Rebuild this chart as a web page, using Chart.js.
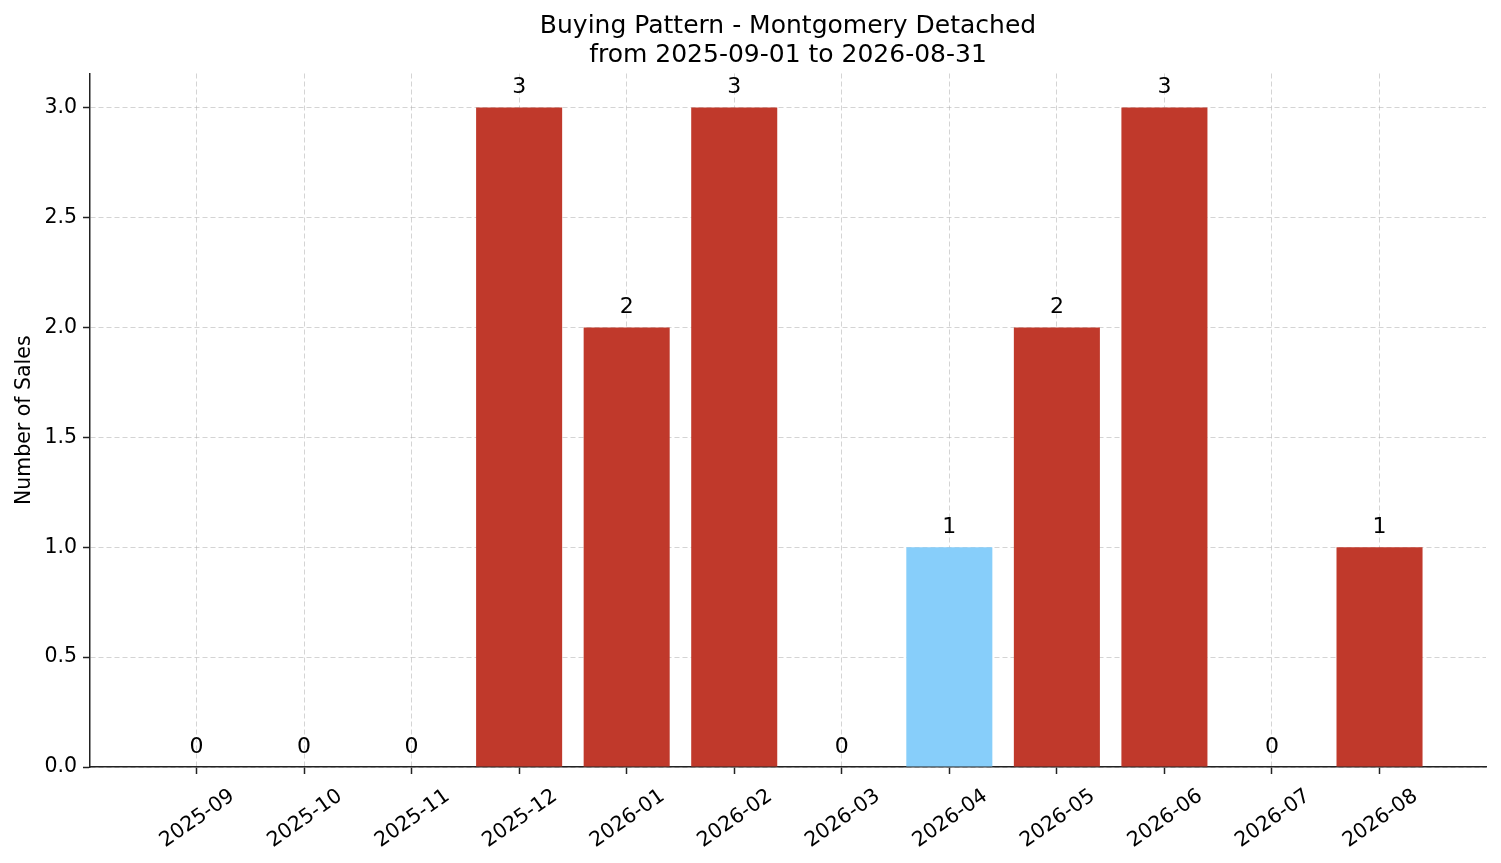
<!DOCTYPE html>
<html>
<head>
<meta charset="utf-8">
<script src="https://cdn.jsdelivr.net/npm/chart.js@4.4.1/dist/chart.umd.min.js"></script>
<style>
    html, body { margin: 0; padding: 0; background: #fff; }
    #wrap { width: 1501px; height: 863px; }
</style>
</head>
<body>
<div id="wrap"><canvas id="salesChart" width="1501" height="863"></canvas></div>
<script>
const months = ["2025-09", "2025-10", "2025-11", "2025-12", "2026-01", "2026-02",
    "2026-03", "2026-04", "2026-05", "2026-06", "2026-07", "2026-08"];
const sales = [0, 0, 0, 3, 2, 3, 0, 1, 2, 3, 0, 1];
const yTicks = [0, 0.5, 1.0, 1.5, 2.0, 2.5, 3.0];
const highlightMonth = "2026-04";

const fontFamily = "'DejaVu Sans', 'Liberation Sans', sans-serif";
const ink = "#000";
const gridColor = "rgba(176,176,176,0.55)";

document.addEventListener("DOMContentLoaded", () => {
    const canvas = document.getElementById("salesChart");

    /* Подписи значений над столбцами */
    const valueLabels = {
        id: "valueLabels",
        afterDraw(chart) {
            const ctx = chart.ctx;
            const meta = chart.getDatasetMeta(0);
            ctx.save();
            ctx.font = "22px " + fontFamily;
            ctx.fillStyle = ink;
            ctx.textAlign = "center";
            ctx.textBaseline = "middle";
            meta.data.forEach((bar, i) => {
                ctx.fillText(String(sales[i]), bar.x, bar.y - 20);
            });
            ctx.restore();
        }
    };

    new Chart(canvas, {
        type: "bar",
        plugins: [valueLabels],
        data: {
            datasets: [{
                data: sales.map((v, i) => ({ x: i, y: v })),
                backgroundColor: months.map(m => m === highlightMonth ? "#87cefa" : "#c0392b"),
                borderWidth: 0,
                barPercentage: 0.8,
                categoryPercentage: 1.0
            }]
        },
        options: {
            responsive: false,
            animation: false,
            devicePixelRatio: 1,
            layout: {
                padding: { left: 0, right: 15, top: 0, bottom: 0 }
            },
            plugins: {
                legend: { display: false },
                tooltip: { enabled: false },
                title: {
                    display: true,
                    fullSize: false,
                    text: ["Buying Pattern - Montgomery Detached", "from 2025-09-01 to 2026-08-31"],
                    color: ink,
                    font: { family: fontFamily, size: 25, weight: "normal", lineHeight: 1.17 },
                    padding: { top: 12, bottom: 3 }
                }
            },
            scales: {
                x: {
                    type: "linear",
                    z: 1,
                    min: -0.99,
                    max: 11.99,
                    offset: false,
                    afterBuildTicks: (scale) => {
                        scale.ticks = months.map((m, i) => ({ value: i }));
                    },
                    afterFit: (scale) => {
                        scale.height = 96;
                    },
                    ticks: {
                        autoSkip: false,
                        minRotation: 35,
                        maxRotation: 35,
                        labelOffset: 36,
                        padding: 10,
                        color: ink,
                        font: { family: fontFamily, size: 20.5 },
                        callback: (value) => months[value]
                    },
                    grid: {
                        offset: false,
                        color: gridColor,
                        lineWidth: 1,
                        drawTicks: true,
                        tickLength: 7,
                        tickColor: "#222",
                        tickWidth: 1.5,
                        tickBorderDash: []
                    },
                    border: { display: true, color: "#222", width: 1.5, dash: [5, 3] }
                },
                y: {
                    z: 1,
                    min: 0,
                    max: 3.155,
                    afterBuildTicks: (scale) => {
                        scale.ticks = yTicks.map(v => ({ value: v }));
                    },
                    afterFit: (scale) => {
                        scale.width = 90;
                    },
                    ticks: {
                        padding: 6,
                        color: ink,
                        font: { family: fontFamily, size: 20.5 },
                        callback: (value) => Number(value).toFixed(1)
                    },
                    grid: {
                        color: gridColor,
                        lineWidth: 1,
                        drawTicks: true,
                        tickLength: 7,
                        tickColor: "#222",
                        tickWidth: 1.5,
                        tickBorderDash: []
                    },
                    border: { display: true, color: "#222", width: 1.5, dash: [5, 3] },
                    title: {
                        display: true,
                        text: "Number of Sales",
                        color: ink,
                        font: { family: fontFamily, size: 20.5 },
                        padding: { top: 12, bottom: 0 }
                    }
                }
            }
        }
    });
});
</script>
</body>
</html>
